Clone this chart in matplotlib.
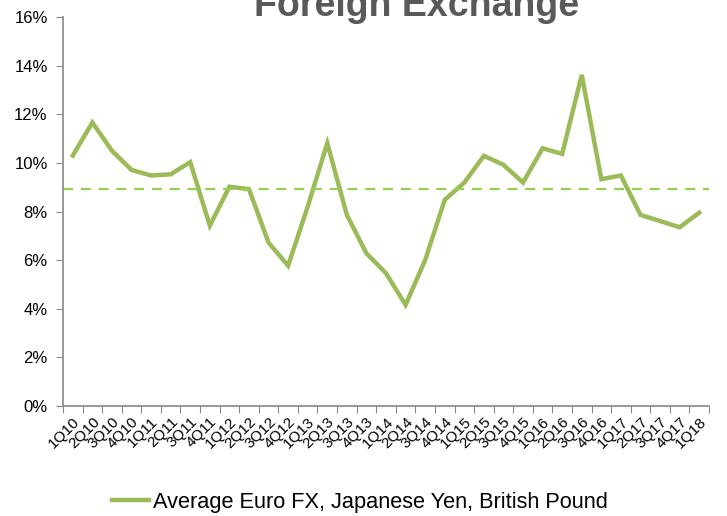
import matplotlib
matplotlib.use("Agg")
import matplotlib.pyplot as plt
from matplotlib.ticker import FuncFormatter

plt.rcParams['font.family'] = ['Liberation Sans', 'DejaVu Sans']

quarters = ["1Q10", "2Q10", "3Q10", "4Q10", "1Q11", "2Q11", "3Q11", "4Q11",
            "1Q12", "2Q12", "3Q12", "4Q12", "1Q13", "2Q13", "3Q13", "4Q13",
            "1Q14", "2Q14", "3Q14", "4Q14", "1Q15", "2Q15", "3Q15", "4Q15",
            "1Q16", "2Q16", "3Q16", "4Q16", "1Q17", "2Q17", "3Q17", "4Q17",
            "1Q18"]
fx = [10.3, 11.66, 10.5, 9.71, 9.48, 9.53, 10.03, 7.42,
      9.02, 8.92, 6.72, 5.77, 8.2, 10.81, 7.86, 6.28,
      5.46, 4.16, 6.0, 8.48, 9.19, 10.29, 9.92, 9.19,
      10.6, 10.37, 13.62, 9.33, 9.48, 7.86, 7.61, 7.35,
      7.95]
avg = 8.93

fig = plt.figure(figsize=(7.27, 5.16), dpi=100)
ax = fig.add_axes([63/727, 110/516, 646/727, 389/516])

x = range(len(quarters))
ax.plot(x, fx, color="#9BBB59", lw=3.2, solid_joinstyle="miter",
        label="Average Euro FX, Japanese Yen, British Pound")
ax.axhline(avg, color="#92D050", lw=1.6, ls=(0, (4.5, 3.5)))

ax.set_xlim(-0.5, len(quarters) - 0.5)
ax.set_ylim(0, 16)
ax.set_yticks(range(0, 17, 2))
ax.yaxis.set_major_formatter(FuncFormatter(lambda v, p: f"{v:.0f}%"))

# category ticks between labels, like Excel
ax.set_xticks([i - 0.5 for i in range(len(quarters) + 1)])
ax.set_xticklabels([])
ax.set_xticks(list(x), minor=True)
ax.set_xticklabels(quarters, minor=True, rotation=45, ha="right",
                   va="top", rotation_mode="anchor", fontsize=11)
ax.tick_params(axis="x", which="minor", length=0, pad=6)
ax.tick_params(axis="x", which="major", length=5, color="#888888",
               direction="out")
ax.tick_params(axis="y", length=5, color="#888888", labelsize=12, pad=6)

for s in ["top", "right"]:
    ax.spines[s].set_visible(False)
for s in ["left", "bottom"]:
    ax.spines[s].set_color("#888888")
    ax.spines[s].set_linewidth(1.2)

fig.text(0.573, 0.953, "Foreign Exchange", ha="center", va="bottom",
         fontsize=27, fontweight="bold", color="#595959")

fig.legend(loc="center", bbox_to_anchor=(0.495, 0.027), frameon=False,
           fontsize=15.7, handlelength=1.7, handletextpad=0.2)

fig.savefig("out.png", dpi=100)
